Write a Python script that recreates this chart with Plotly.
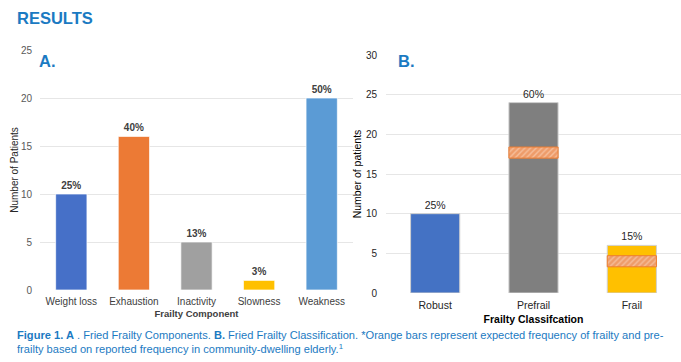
import plotly.graph_objects as go

# ---- data ----
components = ["Weight loss", "Exhaustion", "Inactivity", "Slowness", "Weakness"]
component_counts = [10, 16, 5, 1, 20]
component_pct = ["25%", "40%", "13%", "3%", "50%"]
component_colors = ["#4670c8", "#ec7a35", "#a0a0a0", "#ffc000", "#5b9bd5"]

classes = ["Robust", "Prefrail", "Frail"]
class_counts = [10, 24, 6]
class_pct = ["25%", "60%", "15%"]
class_colors = ["#4472c4", "#7f7f7f", "#ffc000"]

expected_classes = ["Prefrail", "Frail"]
expected_low = [17.0, 3.3]
expected_span = [1.4, 1.4]

W, H = 681, 362
def px(x):
    return x / W
def py(y):
    return 1 - y / H

BLUE = "#1b7ac2"
FONT = "Liberation Sans, Arial, sans-serif"

fig = go.Figure()

fig.add_trace(go.Bar(
    x=components, y=component_counts, text=[f"<b>{t}</b>" for t in component_pct],
    textposition="outside", cliponaxis=False,
    textfont=dict(size=10, color="#404040", family=FONT),
    marker=dict(color=component_colors, line=dict(color="rgba(255,255,255,0.7)", width=1)),
    width=0.5, xaxis="x", yaxis="y", showlegend=False, hoverinfo="x+y",
))

fig.add_trace(go.Bar(
    x=classes, y=class_counts, text=class_pct,
    textposition="outside", cliponaxis=False,
    textfont=dict(size=10.5, color="#262626", family=FONT),
    marker=dict(color=class_colors, line=dict(color="#d0d0d0", width=1)),
    width=0.5, xaxis="x2", yaxis="y2", showlegend=False, hoverinfo="x+y",
))

fig.add_trace(go.Bar(
    x=expected_classes, y=expected_span, base=expected_low,
    marker=dict(color="#f4b183",
                line=dict(color="#ed7d31", width=1),
                pattern=dict(shape="/", fgcolor="#fbe0cc", bgcolor="#ee9c6a", size=4, solidity=0.35)),
    width=0.5, xaxis="x2", yaxis="y2", showlegend=False, hoverinfo="skip",
))

axis_common = dict(showline=False, zeroline=False, ticks="", automargin=False)

fig.update_layout(
    width=W, height=H,
    margin=dict(l=0, r=0, t=0, b=0),
    paper_bgcolor="white", plot_bgcolor="white",
    barmode="overlay",
    font=dict(family=FONT, size=10, color="#595959"),
    xaxis=dict(domain=[px(40), px(353)], anchor="y", **axis_common,
               ticklabelstandoff=4,
               tickfont=dict(size=10, color="#404040"),
               title=dict(text="<b>Frailty Component</b>", font=dict(size=9.5, color="#404040"), standoff=4)),
    yaxis=dict(domain=[py(290), py(50)], anchor="x", range=[0, 25], dtick=5,
               showgrid=True, gridcolor="#e6e6e6", gridwidth=1, **axis_common,
               ticklabelstandoff=7,
               tickfont=dict(size=10, color="#595959"),
               title=dict(text="Number of Patients", font=dict(size=10, color="#262626"), standoff=0)),
    xaxis2=dict(domain=[px(386), 1.0], anchor="y2", **axis_common,
                ticklabelstandoff=4,
                tickfont=dict(size=10.5, color="#262626"),
                title=dict(text="<b>Frailty Classifcation</b>", font=dict(size=10.5, color="#000000"), standoff=6)),
    yaxis2=dict(domain=[py(293), py(55)], anchor="x2", range=[0, 30], dtick=5,
                showgrid=True, gridcolor="#e6e6e6", gridwidth=1, **axis_common,
                ticklabelstandoff=8,
                tickfont=dict(size=10, color="#262626"),
                title=dict(text="Number of patients", font=dict(size=10.5, color="#000000"), standoff=2)),
    annotations=[
        dict(text="<b>RESULTS</b>", x=px(15), y=py(18), xref="paper", yref="paper",
             xanchor="left", yanchor="middle", showarrow=False,
             font=dict(size=16.5, color=BLUE, family=FONT)),
        dict(text="<b>A.</b>", x=px(37), y=py(61), xref="paper", yref="paper",
             xanchor="left", yanchor="middle", showarrow=False,
             font=dict(size=16.5, color=BLUE, family=FONT)),
        dict(text="<b>B.</b>", x=px(396), y=py(61), xref="paper", yref="paper",
             xanchor="left", yanchor="middle", showarrow=False,
             font=dict(size=16.5, color=BLUE, family=FONT)),
        dict(text="<b>Figure 1. A</b> . Fried Frailty Components. <b>B.</b> Fried Frailty Classification. *Orange bars represent expected frequency of frailty and pre-"
                  "<br>frailty based on reported frequency in community-dwelling elderly.<sup>1</sup>",
             x=px(15), y=py(327), xref="paper", yref="paper",
             xanchor="left", yanchor="top", align="left", showarrow=False,
             font=dict(size=11.1, color=BLUE, family=FONT)),
    ],
)

fig.write_html("out.html", config={"displayModeBar": False},
               post_script="document.body.style.margin='0';document.body.style.overflow='hidden';")
